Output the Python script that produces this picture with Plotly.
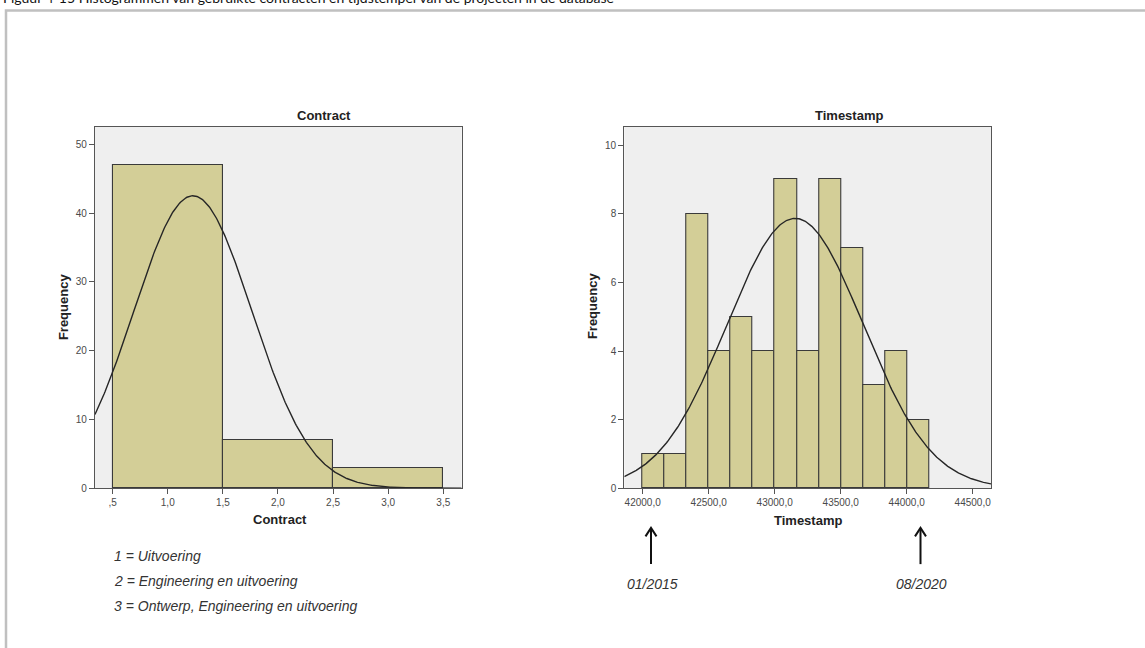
import numpy as np
import plotly.graph_objects as go

# ---------------- data ----------------
contract_bins = [1, 2, 3]
contract_counts = [47, 7, 3]
contract_width = 1.0
contract_mean = 1.228
contract_sd = 0.535

ts_bin_starts = [42000, 42167, 42334, 42500, 42667, 42834, 43001,
                 43168, 43335, 43502, 43668, 43835, 44002]
ts_counts = [1, 1, 8, 4, 5, 4, 9, 4, 9, 7, 3, 4, 2]
ts_width = 166.8
ts_mean = 43155
ts_sd = 516

contract_ticks = [0.5, 1.0, 1.5, 2.0, 2.5, 3.0, 3.5]
contract_ticktext = [",5", "1,0", "1,5", "2,0", "2,5", "3,0", "3,5"]
contract_yticks = [0, 10, 20, 30, 40, 50]
ts_ticks = [42000, 42500, 43000, 43500, 44000, 44500]
ts_ticktext = ["42000,0", "42500,0", "43000,0", "43500,0", "44000,0", "44500,0"]
ts_yticks = [0, 2, 4, 6, 8, 10]

legend_lines = ["1 = Uitvoering", "2 = Engineering en uitvoering",
                "3 = Ontwerp, Engineering en uitvoering"]
date_labels = ["01/2015", "08/2020"]
caption = "Figuur 4-15 Histogrammen van gebruikte contracten en tijdstempel van de projecten in de database"

# ---------------- layout helpers ----------------
W, H = 1145, 648
def px(x): return x / W
def py(y): return 1 - y / H

BAR = "#d3ce97"
EDGE = "#3a3a3a"
BG = "#efefef"
FONT = "Liberation Sans, Arial, sans-serif"

def normal_curve(mean, sd, n, width, x0, x1):
    xs = np.linspace(x0, x1, 400)
    ys = n * width / (sd * np.sqrt(2 * np.pi)) * np.exp(-0.5 * ((xs - mean) / sd) ** 2)
    return xs, ys

fig = go.Figure()

# left histogram
fig.add_trace(go.Bar(x=contract_bins, y=contract_counts, width=contract_width,
                     marker=dict(color=BAR, line=dict(color=EDGE, width=1.1)),
                     xaxis="x", yaxis="y", showlegend=False))
lx_range = [0.34, 3.667]
cx, cy = normal_curve(contract_mean, contract_sd, sum(contract_counts), contract_width, *lx_range)
fig.add_trace(go.Scatter(x=cx, y=cy, mode="lines", line=dict(color="#262626", width=1.4),
                         xaxis="x", yaxis="y", showlegend=False))

# right histogram
ts_centers = [s + ts_width / 2 for s in ts_bin_starts]
fig.add_trace(go.Bar(x=ts_centers, y=ts_counts, width=ts_width,
                     marker=dict(color=BAR, line=dict(color=EDGE, width=1.1)),
                     xaxis="x2", yaxis="y2", showlegend=False))
rx_range = [41861, 44639]
tx, ty = normal_curve(ts_mean, ts_sd, sum(ts_counts), ts_width, *rx_range)
fig.add_trace(go.Scatter(x=tx, y=ty, mode="lines", line=dict(color="#262626", width=1.4),
                         xaxis="x2", yaxis="y2", showlegend=False))

tickfont = dict(family=FONT, size=10, color="#4a4a4a")
axis_common = dict(showgrid=False, zeroline=False, showline=True, mirror=True,
                   linecolor="#555", linewidth=1.2, ticks="outside", ticklen=5,
                   tickcolor="#555", tickfont=tickfont, fixedrange=True)

fig.update_layout(
    width=W, height=H, margin=dict(l=0, r=0, t=0, b=0),
    paper_bgcolor="white", plot_bgcolor=BG, bargap=0,
    xaxis=dict(domain=[px(95), px(461.7)], range=lx_range, tickvals=contract_ticks,
               ticktext=contract_ticktext, anchor="y", **axis_common),
    yaxis=dict(domain=[py(492), py(128)], range=[0, 52.5], tickvals=contract_yticks,
               anchor="x", **axis_common),
    xaxis2=dict(domain=[px(624.3), px(991)], range=rx_range, tickvals=ts_ticks,
                ticktext=ts_ticktext, anchor="y2", **axis_common),
    yaxis2=dict(domain=[py(492), py(128)], range=[0, 10.53], tickvals=ts_yticks,
                anchor="x2", **axis_common),
)

ann = []
bold = dict(family=FONT, size=13, color="#222")
def txt(text, x, y, font, **kw):
    d = dict(text=text, x=px(x), y=py(y), xref="paper", yref="paper",
             xanchor="center", yanchor="middle", showarrow=False, font=font)
    d.update(kw)
    ann.append(d)

txt("<b>Contract</b>", 323.5, 116.5, bold)
txt("<b>Timestamp</b>", 848.5, 116.5, bold)
txt("<b>Contract</b>", 279.7, 524, bold)
txt("<b>Timestamp</b>", 808, 525, bold)
txt("<b>Frequency</b>", 63.5, 309, bold, textangle=-90)
txt("<b>Frequency</b>", 592.5, 308, bold, textangle=-90)

ital = dict(family=FONT, size=14, color="#333")
for i, line in enumerate(legend_lines):
    txt("<i>" + line + "</i>", 112, 560 + 25.3 * i, ital, xanchor="left")

arrow_x = [651, 920.5]
for xpix, lbl in zip(arrow_x, date_labels):
    fig.add_shape(type="line", xref="paper", yref="paper",
                  x0=px(xpix), x1=px(xpix), y0=py(533), y1=py(568.5),
                  line=dict(color="#111", width=2))
    fig.add_shape(type="path", xref="paper", yref="paper",
                  path=f"M {px(xpix-5.5)},{py(540.5)} L {px(xpix)},{py(532)} L {px(xpix+5.5)},{py(540.5)}",
                  line=dict(color="#111", width=2))
    txt("<i>" + lbl + "</i>", xpix + 1, 589, dict(family=FONT, size=14, color="#333"))

txt(caption, 1, 8, dict(family="Lato, Noto Sans, sans-serif", size=14, color="#111"),
    xanchor="left", yanchor="bottom")

fig.update_layout(annotations=ann)

fig.add_shape(type="rect", xref="paper", yref="paper",
              x0=px(6), x1=px(1160), y0=py(10.5), y1=py(670),
              line=dict(color="#c0c0c0", width=2.5), fillcolor="rgba(0,0,0,0)", layer="below")

fig.write_html("out.html")
